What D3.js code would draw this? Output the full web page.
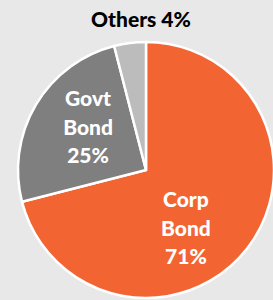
<!DOCTYPE html>
<html>
<head>
<meta charset="utf-8">
<script src="https://cdn.jsdelivr.net/npm/d3@7"></script>
<style>
  html, body { margin: 0; padding: 0; background: #e8e8e8; }
  svg { display: block; }
  text { font-family: Lato, "Open Sans", sans-serif; font-weight: 900; }
</style>
</head>
<body>
<svg id="chart"></svg>
<script>
const categories = ['Corp Bond', 'Govt Bond', 'Others'];
const shares = [71, 25, 4];
const labelLines = [['Corp', 'Bond', '71%'], ['Govt', 'Bond', '25%'], ['Others 4%']];

const width = 273;
const height = 300;
const colors = d3.scaleOrdinal()
  .domain(categories)
  .range(['#f26532', '#7f7f7f', '#bcbcbc']);

const svg = d3.select('#chart')
  .attr('width', width)
  .attr('height', height);

const cx = 146, cy = 170, radius = 128;

const data = categories.map((c, i) => ({ name: c, value: shares[i], lines: labelLines[i] }));

const pie = d3.pie()
  .sort(null)
  .value(d => d.value);

const arc = d3.arc()
  .innerRadius(0)
  .outerRadius(radius);

const labelArc = d3.arc()
  .innerRadius(72)
  .outerRadius(72);

const g = svg.append('g')
  .attr('transform', `translate(${cx},${cy})`);

const arcs = pie(data);

g.selectAll('path')
  .data(arcs)
  .enter()
  .append('path')
  .attr('d', arc)
  .attr('fill', d => colors(d.data.name))
  .attr('stroke', '#ffffff')
  .attr('stroke-width', 2.5)
  .attr('stroke-linejoin', 'round');

// inside labels (the big slices)
const lineH = 28.5;
// Excel had the Corp label nudged toward the middle a bit
const nudge = { 'Corp Bond': [-17, 14], 'Govt Bond': [4, -6] };

arcs.filter(d => d.data.lines.length > 1).forEach(d => {
  const [x, y] = labelArc.centroid(d);
  const [nx, ny] = nudge[d.data.name];
  const t = g.append('text')
    .attr('text-anchor', 'middle')
    .attr('fill', '#ffffff')
    .style('font-size', '21px');
  d.data.lines.forEach((line, i) => {
    t.append('tspan')
      .attr('x', x + nx)
      .attr('y', y + ny + (i - 1) * lineH + 7.5)
      .text(line);
  });
});

// small slice label sits above the pie
const others = arcs[2];
svg.append('text')
  .attr('x', 141)
  .attr('y', 26.5)
  .attr('text-anchor', 'middle')
  .attr('fill', '#000000')
  .style('font-size', '21px')
  .text(others.data.lines[0]);
</script>
</body>
</html>
